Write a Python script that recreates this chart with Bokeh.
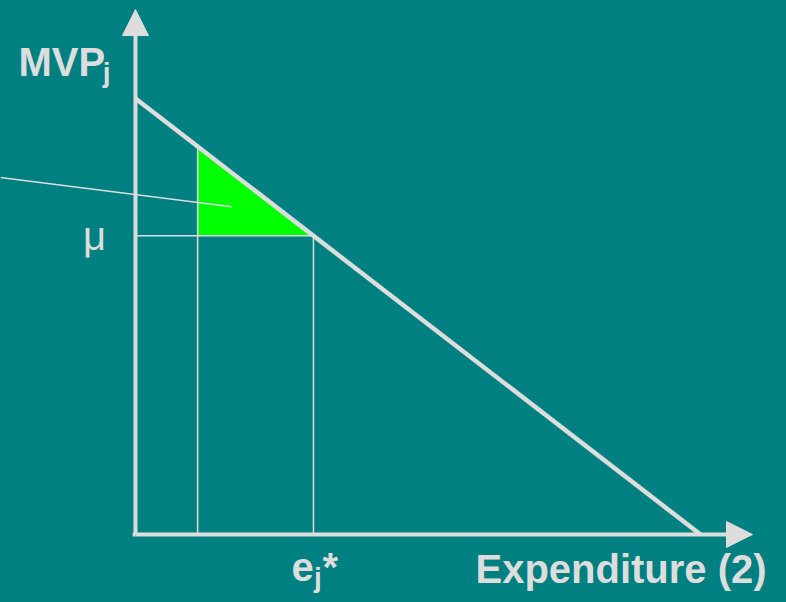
from bokeh.plotting import figure
from bokeh.models import Range1d, Arrow, NormalHead
from bokeh.core.properties import value
from bokeh.embed import file_html
from bokeh.resources import INLINE

# ---- data (arbitrary units) ----
curve_x = [0.0, 10.0]          # expenditure where MVP falls to zero
curve_y = [10.0, 0.0]          # MVP intercept
e_star = 3.15                  # optimal expenditure e_j*
mu = 6.85                      # shadow price mu
e_low = 1.1                    # lower expenditure
mvp_low = 8.9                  # MVP at lower expenditure
pointer_x = [-2.39, 1.70]
pointer_y = [8.19, 7.52]
axis_x_end = 10.92
axis_y_end = 12.04

BG = "#008080"
FG = "#DDDDDD"
GREEN = "#00FF00"

p = figure(width=786, height=602, output_backend="svg", toolbar_location=None,
           x_range=Range1d(-2.389, 11.522), y_range=Range1d(-1.560, 12.248),
           min_border=0, background_fill_color=BG, border_fill_color=BG)
p.axis.visible = False
p.grid.visible = False
p.outline_line_color = None

# surplus triangle
p.patch([e_low, e_low, e_star], [mvp_low, mu, mu], fill_color=GREEN, line_color=None)

# thin guide lines
p.line([0, e_star], [mu, mu], line_color=FG, line_width=1.5)
p.line([e_low, e_low], [0, mvp_low], line_color=FG, line_width=1.5)
p.line([e_star, e_star], [0, mu], line_color=FG, line_width=1.5)
p.line(pointer_x, pointer_y, line_color=FG, line_width=1.5)

# MVP curve
p.line(curve_x, curve_y, line_color=FG, line_width=4.5)

# axes with arrows
p.add_layout(Arrow(end=NormalHead(size=26, fill_color=FG, line_color=FG, line_width=1),
                   x_start=0, y_start=0, x_end=axis_x_end, y_end=0,
                   line_color=FG, line_width=4))
p.add_layout(Arrow(end=NormalHead(size=26, fill_color=FG, line_color=FG, line_width=1),
                   x_start=0, y_start=0, x_end=0, y_end=axis_y_end,
                   line_color=FG, line_width=4))
p.line([-0.05, 0.0], [0, 0], line_color=FG, line_width=4)

F = value("Liberation Sans")
DY = 0.30
def txt(x, y, s, size, bold=True, align="left"):
    p.text(x=[x], y=[y + DY], text=[s], text_font=F, text_font_size=value(size),
           text_font_style="bold" if bold else "normal", text_color=FG,
           text_align=align, text_baseline="alphabetic")

# MVP_j
txt(-2.07, 10.53, "MVP", "40px")
txt(-0.58, 10.30, "j", "28px")
# mu
txt(-0.93, 6.55, "μ", "40px", bold=False)
# e_j*
txt(2.76, -1.05, "e", "40px")
txt(3.16, -1.28, "j", "28px")
txt(3.31, -1.05, "*", "40px")
# x-axis title
txt(11.17, -1.10, "Expenditure (2)", "40px", align="right")

html = file_html(p, INLINE)
html = html.replace("</head>", "<style>html,body{margin:0;padding:0;background-color:#008080;overflow:hidden;}</style></head>", 1)
open("out.html", "w").write(html)
